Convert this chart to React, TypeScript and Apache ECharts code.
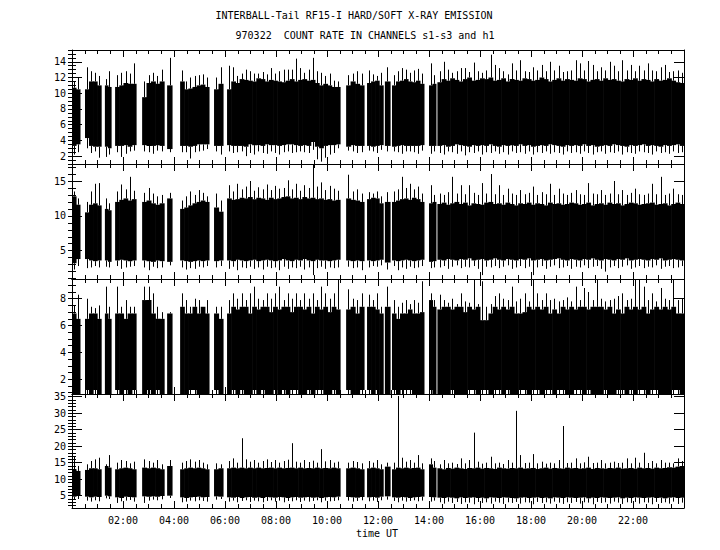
import React, { useEffect, useRef } from "react";
import * as echarts from "echarts";

// ---- time structure (hours UT): data segments between telemetry gaps ----
const segStart = [0.0, 0.51, 1.29, 1.69, 2.75, 3.73, 4.24, 5.57, 6.08, 10.75, 11.57, 12.27, 12.55, 14.0, 14.33];
const segEnd = [0.31, 1.14, 1.53, 2.51, 3.61, 3.92, 5.37, 5.92, 10.51, 11.45, 12.2, 12.47, 13.8, 14.27, 24.0];

// ---- panel 1 (s1): per-bin core top / core bottom / peak / dip ----
const p1Hi = [
  [10.7, 10.5], [10.5, 11.5, 11.5, 11.0], [11.0, 10.8], [10.8, 11.0, 11.3, 11.2, 11.2],
  [9.5, 11.3, 11.5, 11.2, 11.5], [11.0], [11.5, 10.5, 10.6, 10.8, 11.0, 11.1, 10.8], [10.5, 11.2],
  [10.5, 11.5, 11.3, 11.8, 11.7, 11.6, 11.5, 11.9, 11.8, 11.5, 11.7, 11.6, 11.5, 11.4, 11.6, 11.8, 11.5, 11.7, 11.8, 11.6, 11.7, 11.3, 11.0, 11.2, 11.0, 10.8, 10.8],
  [11.0, 11.5, 11.2, 11.0], [11.3, 11.5, 11.6, 11.0], [11.5], [11.0, 11.5, 11.6, 11.8, 11.5, 11.4, 11.6, 11.2], [11.0, 11.2],
  [11.4, 11.8, 11.6, 11.9, 11.7, 11.5, 11.8, 12.0, 11.6, 11.7,
   11.9, 11.8, 12.0, 11.6, 11.7, 11.9, 11.5, 11.8, 11.7, 11.6,
   11.9, 11.8, 11.6, 11.7, 12.0, 11.8, 11.5, 11.7, 11.9, 11.6,
   11.8, 11.7, 11.6, 11.9, 11.8, 11.5, 11.7, 11.8, 11.6, 11.9,
   11.7, 11.8, 11.6, 11.5, 11.8, 11.7, 11.9, 11.6, 11.8, 11.7,
   11.5, 11.8, 11.6, 11.7, 11.9, 11.6, 11.4, 11.3],
];
const p1Lo = [
  [3.3, 3.5], [4.3, 3.3, 3.2, 3.2], [3.2, 3.0], [3.3, 3.3, 3.4, 3.2, 3.4],
  [3.4, 3.3, 3.3, 3.4, 3.3], [2.9], [3.3, 3.3, 3.2, 3.3, 3.5, 3.5, 3.5], [3.3, 3.3],
  [3.4, 3.3, 3.3, 3.3, 3.2, 3.5, 3.4, 3.4, 3.3, 3.5, 3.4, 3.4, 3.3, 3.4, 3.5, 3.5, 3.4, 3.3, 3.4, 3.3, 3.8, 3.2, 3.0, 3.3, 3.4, 3.4, 3.5],
  [3.2, 3.4, 3.3, 3.3], [3.3, 3.2, 3.3, 3.4], [3.3], [3.2, 3.3, 3.4, 3.3, 3.3, 3.3, 3.3, 3.4], [3.3, 3.3],
  [3.3, 3.4, 3.2, 3.3, 3.5, 3.4, 3.3, 3.2, 3.4, 3.3,
   3.4, 3.3, 3.5, 3.3, 3.2, 3.4, 3.3, 3.4, 3.3, 3.5,
   3.3, 3.4, 3.2, 3.3, 3.4, 3.3, 3.5, 3.4, 3.3, 3.2,
   3.4, 3.3, 3.4, 3.3, 3.5, 3.3, 3.4, 3.2, 3.3, 3.4,
   3.3, 3.5, 3.4, 3.3, 3.2, 3.4, 3.3, 3.4, 3.5, 3.3,
   3.4, 3.3, 3.2, 3.4, 3.3, 3.4, 3.5, 3.3],
];
const p1Pk = [
  [11.5, 12.0], [13.3, 12.8, 12.6, 12.2], [11.8, 12.8], [12.3, 12.6, 12.8, 12.5, 13.8],
  [11.5, 12.3, 12.6, 12.2, 13.0], [14.5], [12.9, 11.5, 12.0, 12.2, 12.3, 12.4, 12.0], [12.0, 13.3],
  [13.5, 13.3, 12.2, 12.5, 13.0, 12.8, 12.5, 12.5, 12.7, 12.4, 13.2, 12.5, 12.8, 13.0, 13.0, 13.0, 14.4, 13.2, 12.6, 13.0, 14.5, 12.8, 12.6, 12.2, 12.5, 11.6, 11.5],
  [12.3, 12.5, 12.8, 12.5], [12.9, 12.4, 12.2, 12.6], [13.3], [12.3, 12.8, 13.2, 13.0, 12.6, 12.9, 13.1, 12.5], [13.8, 12.3],
  [12.8, 14.0, 13.0, 12.6, 12.8, 13.2, 13.2, 12.7, 13.9, 12.8,
   12.6, 12.9, 14.9, 13.6, 13.2, 12.8, 12.4, 13.8, 12.9, 14.2,
   12.8, 12.7, 13.3, 12.9, 13.6, 12.8, 14.0, 12.9, 13.5, 12.7,
   12.8, 12.9, 14.2, 13.8, 12.9, 14.1, 13.6, 12.8, 13.3, 12.9,
   14.0, 13.5, 12.8, 14.2, 12.9, 13.6, 12.8, 13.5, 12.9, 13.8,
   12.9, 12.8, 13.3, 13.6, 12.7, 12.8, 12.9, 12.6],
];
const p1Dp = [
  [2.2, 2.5], [3.0, 2.4, 2.6, 1.8], [1.9, 2.2], [2.5, 1.9, 2.3, 2.6, 2.7],
  [2.6, 2.5, 2.3, 2.7, 2.6], [2.5], [2.5, 2.5, 1.7, 2.5, 2.6, 2.7, 2.9], [2.6, 2.2],
  [2.6, 2.4, 2.5, 2.6, 2.0, 2.4, 2.2, 2.6, 2.4, 2.3, 2.6, 2.4, 2.2, 2.5, 2.6, 2.4, 2.5, 2.6, 2.5, 2.4, 2.8, 1.6, 1.3, 1.8, 2.2, 2.4, 3.0],
  [2.7, 2.6, 2.4, 2.5], [2.7, 2.6, 2.4, 2.8], [2.6], [2.6, 2.5, 2.3, 2.6, 2.6, 2.5, 2.3, 2.7], [2.3, 2.6],
  [2.4, 2.2, 2.6, 2.5, 2.3, 2.6, 2.1, 2.5, 2.4, 2.6,
   2.2, 2.5, 2.4, 2.6, 2.3, 2.5, 2.2, 2.6, 2.4, 2.5,
   2.3, 2.6, 2.2, 2.5, 2.4, 2.6, 2.3, 2.5, 2.4, 2.2,
   2.6, 2.4, 2.5, 2.3, 2.6, 2.4, 2.2, 2.5, 2.6, 2.3,
   2.5, 2.4, 2.6, 2.2, 2.5, 2.4, 2.3, 2.6, 2.5, 2.4,
   2.2, 2.6, 2.4, 2.5, 2.3, 2.6, 2.4, 2.5],
];

// ---- panel 2 (s2) ----
const p2Hi = [
  [12.8, 11.6], [10.5, 11.6, 11.8, 11.5], [11.0, 10.8], [12.0, 12.3, 12.5, 12.2, 12.4],
  [12.0, 12.2, 11.8, 11.6, 11.8], [12.5], [11.0, 11.2, 11.5, 11.8, 12.0, 12.2, 12.0], [11.2, 10.6],
  [12.5, 12.3, 12.4, 12.6, 12.5, 12.7, 12.4, 12.6, 12.5, 12.3, 12.6, 12.4, 12.5, 12.7, 12.8, 12.5, 12.6, 12.4, 12.7, 12.5, 12.6, 12.4, 12.5, 12.3, 12.4, 12.2, 12.3],
  [12.5, 12.3, 12.2, 12.0], [12.4, 12.6, 12.5, 11.8], [12.0], [12.0, 12.2, 12.4, 12.5, 12.3, 12.6, 12.4, 12.0], [11.8, 12.0],
  [11.7, 11.9, 11.6, 11.8, 12.0, 11.7, 11.9, 11.5, 11.8, 11.7,
   11.6, 11.9, 12.0, 11.7, 11.8, 11.6, 11.9, 11.7, 11.5, 11.8,
   11.7, 11.9, 11.6, 11.8, 11.7, 11.5, 11.9, 11.7, 11.8, 11.6,
   11.7, 11.9, 11.8, 11.6, 11.7, 11.9, 11.5, 11.7, 11.8, 11.6,
   11.9, 11.7, 11.8, 11.5, 11.7, 11.9, 11.8, 11.6, 11.7, 11.8,
   11.9, 11.6, 11.7, 11.8, 11.5, 11.7, 11.9, 11.7],
];
const p2Lo = [
  [3.2, 3.8], [3.8, 3.6, 3.5, 3.6], [3.6, 3.4], [3.6, 3.7, 3.6, 3.5, 3.6],
  [3.6, 3.5, 3.4, 3.6, 3.5], [3.4], [3.6, 3.5, 3.4, 3.5, 3.6, 3.5, 3.6], [3.5, 3.6],
  [3.6, 3.5, 3.7, 3.6, 3.5, 3.6, 3.7, 3.5, 3.6, 3.7, 3.6, 3.5, 3.6, 3.8, 3.6, 3.5, 3.7, 3.6, 3.8, 3.6, 3.5, 3.7, 3.6, 3.6, 3.5, 3.6, 3.7],
  [3.6, 3.5, 3.6, 3.5], [3.6, 3.5, 3.6, 3.7], [3.3], [3.6, 3.5, 3.6, 3.7, 3.6, 3.5, 3.6, 3.7], [3.4, 3.5],
  [3.7, 3.6, 3.8, 3.7, 3.6, 3.8, 3.7, 3.9, 3.6, 3.7,
   3.8, 3.6, 3.7, 3.9, 3.7, 3.6, 3.8, 3.7, 3.6, 3.8,
   3.7, 3.9, 3.6, 3.7, 3.8, 3.6, 3.7, 3.8, 3.9, 3.7,
   3.6, 3.8, 3.7, 3.6, 3.8, 3.7, 3.9, 3.7, 3.6, 3.8,
   3.7, 3.6, 3.8, 3.7, 3.9, 3.6, 3.7, 3.8, 3.7, 3.6,
   3.8, 3.7, 3.9, 3.6, 3.7, 3.8, 3.7, 3.6],
];
const p2Pk = [
  [13.5, 12.5], [12.0, 13.5, 14.6, 14.7], [12.5, 11.8], [13.5, 14.5, 13.8, 15.6, 13.6],
  [13.3, 14.0, 13.2, 12.8, 13.0], [13.3], [12.2, 12.8, 13.5, 13.0, 13.7, 13.3, 12.8], [13.2, 12.2],
  [14.4, 13.5, 14.6, 13.8, 14.2, 15.0, 13.6, 14.1, 13.8, 14.5, 13.7, 14.3, 13.9, 14.0, 15.1, 13.8, 14.6, 13.6, 14.4, 14.0, 17.3, 14.2, 14.8, 13.7, 14.3, 13.9, 13.6],
  [15.9, 13.5, 13.8, 13.2], [13.4, 13.2, 13.5, 12.8], [13.4], [13.5, 13.8, 15.6, 14.0, 14.6, 13.8, 14.2, 13.2], [14.4, 13.0],
  [13.2, 13.0, 13.4, 15.6, 13.2, 14.4, 13.1, 14.4, 13.3, 13.0,
   14.7, 13.2, 16.0, 13.1, 14.4, 13.0, 13.9, 13.2, 13.0, 13.7,
   13.1, 13.3, 14.2, 13.0, 13.4, 13.1, 14.6, 13.0, 13.9, 13.2,
   13.0, 13.3, 13.7, 13.1, 13.0, 14.7, 13.2, 13.1, 13.7, 13.0,
   13.2, 15.0, 13.1, 13.7, 13.0, 13.3, 13.9, 13.1, 13.0, 13.2,
   14.6, 13.1, 15.6, 13.0, 13.2, 13.9, 13.1, 13.0],
];
const p2Dp = [
  [2.3, 2.8], [2.5, 2.6, 2.8, 2.6], [2.7, 2.6], [2.8, 2.4, 2.6, 2.7, 2.8],
  [2.6, 2.2, 2.7, 2.5, 2.6], [2.9], [2.6, 2.3, 2.5, 2.4, 2.7, 2.6, 2.8], [2.6, 2.8],
  [2.4, 2.7, 2.2, 2.6, 2.5, 2.7, 2.4, 2.6, 2.3, 2.7, 2.5, 2.6, 2.2, 2.7, 2.4, 2.6, 2.5, 2.7, 2.3, 2.6, 1.5, 2.5, 2.7, 2.4, 2.6, 2.5, 2.6],
  [2.7, 2.5, 2.6, 2.2], [2.6, 2.8, 2.7, 2.9], [2.3], [2.8, 2.2, 2.6, 2.4, 2.7, 2.5, 2.6, 2.8], [2.5, 2.6],
  [2.6, 2.8, 2.4, 2.7, 2.9, 2.5, 2.7, 2.6, 2.8, 2.4,
   1.5, 2.7, 2.6, 2.8, 2.5, 2.7, 2.9, 2.4, 2.6, 2.8,
   2.5, 2.7, 1.5, 2.6, 2.8, 2.4, 2.7, 2.9, 2.5, 2.6,
   2.8, 2.4, 2.7, 2.6, 2.9, 2.5, 2.7, 2.8, 2.4, 2.0,
   2.6, 2.8, 2.5, 2.7, 2.9, 2.4, 2.6, 2.8, 2.5, 2.7,
   2.6, 2.9, 2.4, 2.7, 2.8, 2.5, 2.6, 2.8],
];

// ---- panel 3 (s3); the count floor runs below the axis minimum ----
const p3Hi = [
  [6.9, 6.5], [6.5, 6.9, 6.9, 6.5], [6.9, 6.5], [6.9, 6.9, 6.5, 6.9, 6.9],
  [7.9, 7.9, 6.9, 6.5, 6.5], [6.9], [7.4, 6.9, 6.9, 7.4, 6.9, 7.4, 6.9], [6.9, 6.5],
  [6.9, 7.4, 7.2, 7.4, 7.4, 6.9, 7.4, 7.2, 7.4, 7.4, 7.0, 7.4, 7.2, 7.4, 7.4, 7.0, 7.4, 7.4, 7.2, 7.4, 6.9, 7.4, 7.2, 7.4, 7.0, 7.4, 7.2],
  [7.2, 7.4, 6.9, 7.4], [7.4, 7.4, 7.2, 6.9], [7.4], [6.9, 6.5, 6.9, 6.9, 7.2, 6.9, 6.9, 7.0], [7.9, 7.4],
  [7.2, 7.4, 7.4, 7.2, 7.4, 7.4, 7.0, 7.4, 7.2, 7.4,
   6.4, 6.4, 6.9, 7.4, 7.2, 7.4, 7.2, 7.4, 6.9, 6.9,
   7.0, 7.4, 7.2, 7.4, 7.2, 7.4, 6.9, 7.2, 6.9, 7.4,
   7.2, 7.4, 7.2, 7.4, 7.4, 7.2, 7.4, 7.4, 7.4, 7.2,
   7.4, 6.9, 7.2, 6.9, 7.4, 7.2, 7.4, 7.2, 7.4, 6.9,
   7.2, 7.4, 7.2, 7.4, 7.2, 7.4, 6.9, 6.9],
];
const p3Lo = [
  [0.9, 0.9], [1.2, 0.9, 1.2, 0.9], [0.9, 0.9], [1.2, 0.9, 1.2, 0.9, 1.2],
  [0.9, 1.2, 0.9, 1.2, 0.9], [0.9], [0.9, 0.9, 1.2, 1.2, 0.9, 0.9, 0.9], [1.2, 0.9],
  [0.9, 1.2, 0.9, 1.2, 0.9, 0.9, 1.2, 0.9, 1.2, 0.9, 0.9, 1.2, 0.9, 1.2, 0.9, 1.2, 1.2, 0.9, 0.9, 1.2, 0.9, 1.2, 1.2, 0.9, 0.9, 1.2, 0.9],
  [1.2, 0.9, 0.9, 1.2], [1.2, 0.9, 1.2, 0.9], [0.9], [1.2, 0.9, 1.2, 1.2, 1.2, 0.9, 0.9, 0.9], [1.2, 0.9],
  [0.9, 0.9, 0.9, 1.2, 0.9, 0.9, 0.9, 1.2, 1.2, 0.9,
   1.2, 1.2, 0.9, 1.2, 1.2, 0.9, 1.2, 0.9, 0.9, 1.2,
   1.2, 0.9, 1.2, 1.2, 0.9, 1.2, 1.2, 0.9, 1.2, 1.2,
   0.9, 0.9, 1.2, 1.2, 0.9, 1.2, 0.9, 0.9, 0.9, 1.2,
   0.9, 0.9, 1.2, 1.2, 0.9, 1.2, 0.9, 1.2, 1.2, 0.9,
   1.2, 1.2, 0.9, 0.9, 0.9, 1.2, 1.2, 0.9],
];
const p3Pk = [
  [7.5, 8.3], [8.0, 7.4, 7.3, 7.5], [8.9, 7.4], [8.9, 7.4, 7.9, 7.4, 7.4],
  [8.9, 8.9, 8.4, 7.4, 7.0], [7.0], [8.4, 7.9, 7.4, 8.0, 7.9, 7.4, 7.9], [7.4, 7.4],
  [7.9, 8.4, 8.0, 8.4, 7.9, 8.4, 8.9, 8.0, 7.9, 8.4, 8.0, 8.4, 8.9, 7.9, 8.4, 8.0, 8.4, 7.9, 8.4, 8.0, 8.4, 7.9, 8.9, 8.4, 8.0, 8.4, 9.4],
  [8.7, 8.0, 7.9, 8.4], [8.3, 7.9, 8.4, 7.4], [8.9], [7.9, 7.4, 7.7, 7.9, 7.6, 7.9, 7.7, 9.3], [8.4, 7.9],
  [8.3, 7.9, 7.7, 8.0, 7.6, 8.4, 7.8, 7.7, 9.4, 7.6,
   9.3, 7.4, 7.6, 8.2, 8.4, 8.0, 7.9, 8.9, 7.8, 8.0,
   8.4, 7.8, 9.4, 8.4, 7.9, 8.4, 7.9, 8.0, 7.8, 7.9,
   8.1, 7.8, 8.9, 7.9, 8.8, 8.5, 7.9, 9.4, 8.0, 7.8,
   7.9, 8.0, 8.2, 8.4, 7.9, 8.0, 9.4, 9.4, 8.9, 7.9,
   8.4, 7.8, 8.8, 8.0, 7.9, 9.4, 7.9, 8.0],
];
const p3Dp = null;

// ---- panel 4 (h1) ----
const p4Hi = [
  [13.0, 12.5], [12.8, 13.3, 13.3, 13.0], [14.0, 13.5], [13.0, 13.3, 13.5, 13.3, 13.0],
  [13.5, 13.3, 13.5, 13.3, 13.0], [14.0], [13.0, 13.3, 13.5, 13.3, 13.5, 13.3, 13.0], [13.0, 13.3],
  [13.3, 13.5, 13.3, 13.5, 13.3, 13.5, 13.3, 13.5, 13.3, 13.4, 13.5, 13.3, 13.5, 13.3, 13.4, 13.5, 13.3, 13.5, 13.3, 13.4, 13.3, 13.5, 13.3, 13.4, 13.3, 13.5, 13.3],
  [13.3, 13.5, 13.3, 13.0], [13.3, 13.5, 13.3, 13.0], [13.8], [13.0, 13.5, 13.3, 13.5, 13.3, 13.4, 13.5, 13.0], [14.5, 13.5],
  [13.3, 13.0, 13.4, 13.2, 13.5, 13.3, 13.1, 13.4, 13.3, 13.5,
   13.2, 13.4, 13.3, 13.1, 13.5, 13.3, 13.2, 13.4, 13.3, 13.5,
   13.2, 13.3, 13.4, 13.1, 13.3, 13.5, 13.2, 13.4, 13.3, 13.2,
   13.5, 13.3, 13.4, 13.2, 13.3, 13.5, 13.1, 13.4, 13.3, 13.2,
   13.4, 13.3, 13.5, 13.2, 13.3, 13.4, 13.2, 13.5, 13.3, 13.4,
   13.2, 13.5, 13.3, 13.4, 13.6, 13.5, 13.8, 14.0],
];
const p4Lo = [
  [4.7, 5.0], [4.7, 4.5, 4.7, 4.6], [5.0, 4.8], [4.5, 4.3, 4.7, 4.6, 4.5],
  [4.8, 4.7, 4.8, 4.7, 4.9], [5.0], [4.5, 4.3, 4.5, 4.6, 4.7, 4.5, 4.6], [4.8, 4.7],
  [4.5, 4.4, 4.6, 4.3, 4.5, 4.6, 4.4, 4.5, 4.3, 4.6, 4.5, 4.4, 4.6, 4.5, 4.3, 4.5, 4.6, 4.4, 4.5, 4.6, 4.4, 4.5, 4.3, 4.5, 4.6, 4.5, 4.7],
  [4.6, 4.5, 4.4, 4.6], [4.5, 4.6, 4.4, 4.7], [4.8], [4.5, 4.4, 4.6, 4.5, 4.3, 4.5, 4.6, 4.7], [4.6, 4.5],
  [4.4, 4.3, 4.5, 4.4, 4.2, 4.5, 4.3, 4.4, 4.5, 4.3,
   4.4, 4.2, 4.5, 4.4, 4.3, 4.5, 4.4, 4.3, 4.2, 4.4,
   4.5, 4.3, 4.4, 4.5, 4.3, 4.4, 4.2, 4.5, 4.4, 4.3,
   4.5, 4.4, 4.3, 4.4, 4.5, 4.2, 4.4, 4.3, 4.5, 4.4,
   4.3, 4.4, 4.5, 4.2, 4.4, 4.3, 4.5, 4.4, 4.3, 4.4,
   4.5, 4.3, 4.4, 4.2, 4.4, 4.5, 4.3, 4.4],
];
const p4Pk = [
  [16.8, 14.0], [14.5, 15.5, 16.0, 16.5], [14.5, 17.3], [15.0, 15.8, 15.5, 14.8, 15.3],
  [16.0, 15.5, 15.0, 15.8, 14.5], [15.8], [15.0, 15.5, 16.0, 15.3, 15.8, 15.0, 14.5], [14.8, 14.5],
  [15.5, 16.3, 15.0, 22.4, 16.0, 15.3, 15.8, 15.0, 15.5, 16.0, 15.2, 15.8, 15.0, 15.5, 15.9, 20.9, 15.3, 15.0, 15.8, 15.2, 15.6, 15.0, 19.1, 15.4, 15.8, 15.0, 15.3],
  [15.0, 15.5, 15.2, 14.8], [15.5, 15.0, 15.8, 14.5], [15.0], [15.0, 35.2, 16.5, 15.3, 15.8, 15.0, 17.3, 14.8], [16.3, 15.5],
  [14.5, 15.8, 14.8, 15.0, 14.6, 16.3, 14.8, 15.8, 24.1, 15.3,
   14.7, 15.0, 16.8, 14.8, 15.0, 14.6, 15.8, 15.0, 30.7, 17.3,
   14.9, 15.0, 17.6, 14.8, 15.3, 14.7, 15.0, 14.8, 15.8, 26.1,
   14.9, 15.0, 16.3, 14.8, 15.1, 16.8, 14.9, 15.0, 15.8, 14.8,
   15.0, 15.3, 14.9, 15.0, 16.3, 14.8, 16.5, 15.0, 18.0, 14.9,
   15.5, 14.8, 15.8, 15.0, 15.0, 14.8, 16.3, 15.5],
];
const p4Dp = [
  [3.7, 4.0], [3.5, 3.2, 3.6, 3.3], [4.2, 4.0], [2.8, 3.3, 3.5, 3.7, 3.2],
  [2.8, 3.5, 3.8, 3.6, 3.9], [4.3], [3.0, 3.2, 3.5, 3.3, 3.6, 3.4, 3.2], [3.8, 4.0],
  [3.2, 3.5, 3.0, 3.4, 3.6, 3.1, 3.5, 3.3, 3.0, 3.4, 3.6, 3.2, 3.5, 3.0, 3.4, 3.3, 3.6, 3.1, 3.5, 3.2, 3.4, 3.6, 3.0, 3.5, 3.3, 3.4, 3.6],
  [3.5, 3.2, 3.4, 3.6], [3.3, 3.5, 3.1, 3.6], [3.8], [3.4, 3.0, 3.5, 3.2, 3.4, 3.6, 3.3, 3.5], [3.2, 3.5],
  [3.0, 2.6, 3.2, 2.8, 3.1, 2.5, 3.0, 2.9, 2.4, 3.1,
   2.8, 3.0, 2.6, 3.2, 2.9, 2.5, 3.0, 2.8, 3.1, 2.6,
   3.0, 2.9, 2.4, 3.1, 2.8, 3.0, 2.6, 3.2, 2.9, 2.5,
   3.0, 2.8, 3.1, 2.6, 3.0, 2.9, 2.4, 3.1, 2.8, 3.0,
   2.6, 3.2, 2.9, 2.5, 3.0, 2.8, 3.1, 2.6, 3.0, 2.9,
   2.4, 3.1, 2.8, 3.0, 2.6, 3.2, 2.5, 2.9],
];

// ---- axis ranges and tick labels ----
const p1Ticks = [2, 4, 6, 8, 10, 12, 14];
const p2Ticks = [5, 10, 15];
const p3Ticks = [2, 4, 6, 8];
const p4Ticks = [5, 10, 15, 20, 25, 30, 35];
const timeTicks = [2, 4, 6, 8, 10, 12, 14, 16, 18, 20, 22];

const titleLine1 = "INTERBALL-Tail RF15-I HARD/SOFT X-RAY EMISSION";
const titleLine2 = "970322  COUNT RATE IN CHANNELS s1-s3 and h1";
const xTitle = "time UT";

const FONT = '"DejaVu Sans Mono", "Liberation Mono", monospace';

const panels = [
  { hi: p1Hi, lo: p1Lo, pk: p1Pk, dp: p1Dp, min: 1.0, max: 15.5, ticks: p1Ticks, minor: 0.5, top: 50, height: 114 },
  { hi: p2Hi, lo: p2Lo, pk: p2Pk, dp: p2Dp, min: 0.94, max: 17.44, ticks: p2Ticks, minor: 1, top: 164, height: 115 },
  { hi: p3Hi, lo: p3Lo, pk: p3Pk, dp: p3Dp, min: 0.9, max: 9.47, ticks: p3Ticks, minor: 0.5, top: 279, height: 115 },
  { hi: p4Hi, lo: p4Lo, pk: p4Pk, dp: p4Dp, min: 1.27, max: 35.8, ticks: p4Ticks, minor: 1, top: 394, height: 114 },
];

function buildItems(p: any) {
  const items: number[][] = [];
  segStart.forEach((s, i) => {
    const e = segEnd[i];
    const hiSeg = p.hi[i];
    const n = hiSeg.length;
    for (let j = 0; j < n; j++) {
      const t0 = s + ((e - s) * j) / n;
      const t1 = s + ((e - s) * (j + 1)) / n;
      const hi = hiSeg[j];
      const lo = p.lo[i][j] ?? p.lo[i][p.lo[i].length - 1];
      const pk = p.pk[i][j] ?? hi;
      const dp = p.dp ? p.dp[i][j] ?? lo : p.min;
      items.push([t0, t1, lo, hi, dp, pk]);
    }
  });
  return items;
}

function minorValues(min: number, max: number, step: number) {
  const out: number[] = [];
  for (let k = Math.ceil(min / step); k * step <= max + 1e-9; k++) out.push(+(k * step).toFixed(3));
  return out;
}

const renderBin = (params: any, api: any) => {
  const t0 = api.value(0), t1 = api.value(1), lo = api.value(2), hi = api.value(3), dp = api.value(4), pk = api.value(5);
  const a = api.coord([t0, hi]);
  const b = api.coord([t1, lo]);
  const xm = Math.round((a[0] + b[0]) / 2) + 0.5;
  const yPk = api.coord([t0, pk])[1];
  const yDp = api.coord([t0, dp])[1];
  return {
    type: "group",
    children: [
      { type: "rect", shape: { x: a[0], y: a[1], width: b[0] - a[0] + 0.6, height: b[1] - a[1] }, style: { fill: "#000" } },
      { type: "line", shape: { x1: xm, y1: a[1], x2: xm, y2: yPk }, style: { stroke: "#000", lineWidth: 1 } },
      { type: "line", shape: { x1: xm, y1: b[1], x2: xm, y2: yDp }, style: { stroke: "#000", lineWidth: 1 } },
    ],
  };
};

function buildOption() {
  const grid: any[] = [];
  const xAxis: any[] = [];
  const yAxis: any[] = [];
  const series: any[] = [];
  const black = { color: "#000", width: 1 };
  panels.forEach((p, i) => {
    grid.push({ left: 72, width: 612, top: p.top, height: p.height });
    const isLast = i === panels.length - 1;
    ["bottom", "top"].forEach((pos) => {
      const showLab = isLast && pos === "bottom";
      xAxis.push({
        type: "value", gridIndex: i, position: pos, min: 0, max: 24, interval: 2,
        axisLine: { show: true, onZero: false, lineStyle: black },
        axisTick: { show: true, inside: true, length: 7, lineStyle: black },
        minorTick: { show: true, splitNumber: 4, length: 4, lineStyle: black },
        splitLine: { show: false }, minorSplitLine: { show: false },
        axisLabel: {
          show: showLab, customValues: timeTicks, margin: 7,
          color: "#000", fontFamily: FONT, fontSize: 10,
          formatter: (v: number) => String(v).padStart(2, "0") + ":00",
        },
      });
    });
    const minors = minorValues(p.min, p.max, p.minor);
    ["left", "right"].forEach((pos) => {
      yAxis.push({
        type: "value", gridIndex: i, position: pos, min: p.min, max: p.max,
        axisLine: { show: true, onZero: false, lineStyle: black },
        axisTick: { show: true, inside: true, length: 10, customValues: p.ticks, lineStyle: black },
        splitLine: { show: false },
        axisLabel: {
          show: pos === "left", customValues: p.ticks, margin: 6,
          color: "#000", fontFamily: FONT, fontSize: 10,
        },
      });
      yAxis.push({
        type: "value", gridIndex: i, position: pos, min: p.min, max: p.max,
        axisLine: { show: false },
        axisTick: { show: true, inside: true, length: 4, customValues: minors, lineStyle: black },
        splitLine: { show: false },
        axisLabel: { show: false },
      });
    });
    series.push({
      type: "custom", xAxisIndex: i * 2, yAxisIndex: i * 4, clip: true, silent: true,
      renderItem: renderBin, encode: { x: [0, 1], y: [2, 3, 4, 5] },
      data: buildItems(p),
    });
  });
  const txt = (text: string, x: number, y: number) => ({
    type: "text", x, y, silent: true,
    style: { text, fill: "#000", font: `10px ${FONT}`, align: "center", verticalAlign: "middle", textAlign: "center", textVerticalAlign: "middle" },
  });
  return {
    animation: false,
    backgroundColor: "#fff",
    grid, xAxis, yAxis, series,
    graphic: [txt(titleLine1, 354, 15), txt(titleLine2, 365, 35), txt(xTitle, 377, 533)],
  };
}

export default function App() {
  const ref = useRef<HTMLDivElement>(null);
  useEffect(() => {
    if (!ref.current) return;
    const chart = echarts.init(ref.current, null, { renderer: "svg" });
    chart.setOption(buildOption() as any);
    return () => chart.dispose();
  }, []);
  return <div ref={ref} style={{ position: "absolute", left: 0, top: 0, width: 720, height: 550, background: "#fff" }} />;
}
